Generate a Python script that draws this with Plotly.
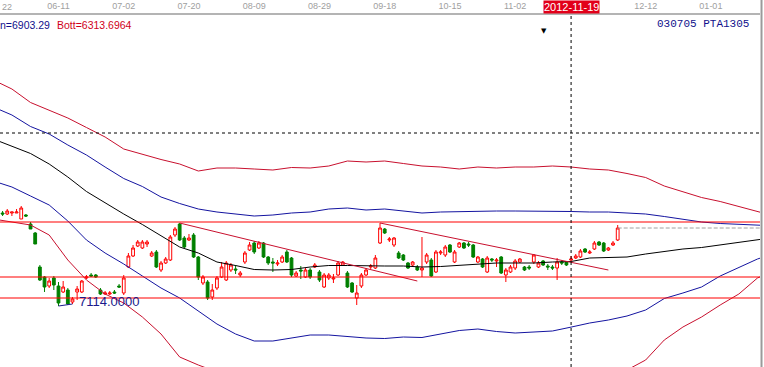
import plotly.graph_objects as go

# ---------------- data ----------------
bar_index = list(range(2, 135))

OPEN = [8044, 8034, 8044, 8044, 7984, 8024, 7934, 7844, 7504, 7404, 7314, 7394, 7314, 7254, 7274, 7154, 7254, 7254,
        7394, 7424, 7424, 7274, 7234, 7234, 7254, 7314, 7244, 7504, 7614, 7714, 7694, 7734, 7614, 7654, 7474, 7544,
        7574, 7824, 7934, 7794, 7774, 7824, 7604, 7344, 7354, 7204, 7294, 7404, 7374, 7474, 7484, 7424, 7554, 7674,
        7744, 7694, 7744, 7604, 7554, 7534, 7554, 7654, 7594, 7414, 7474, 7404, 7474, 7504, 7454, 7304, 7394, 7384,
        7424, 7524, 7444, 7344, 7194, 7314, 7424, 7504, 7494, 7744, 7884, 7774, 7724, 7644, 7624, 7544, 7524, 7504,
        7474, 7554, 7574, 7454, 7644, 7624, 7724, 7554, 7704, 7744, 7734, 7724, 7554, 7584, 7454, 7584, 7564, 7604,
        7424, 7454, 7494, 7554, 7504, 7504, 7554, 7504, 7564, 7514, 7504, 7494, 7554, 7554, 7574, 7594, 7604, 7684,
        7644, 7684, 7754, 7744, 7674, 7724, 7774]
HIGH = [8064, 8084, 8054, 8084, 8114, 8034, 7954, 7854, 7524, 7414, 7394, 7414, 7354, 7364, 7294, 7204, 7314, 7374,
        7424, 7444, 7434, 7294, 7264, 7264, 7274, 7334, 7424, 7644, 7724, 7774, 7774, 7774, 7664, 7674, 7564, 7604,
        7824, 7904, 7944, 7814, 7834, 7844, 7614, 7424, 7374, 7334, 7414, 7554, 7564, 7544, 7524, 7464, 7664, 7754,
        7764, 7764, 7754, 7614, 7594, 7574, 7624, 7674, 7604, 7464, 7514, 7494, 7494, 7544, 7474, 7444, 7444, 7434,
        7564, 7564, 7464, 7354, 7324, 7444, 7494, 7534, 7624, 7944, 7894, 7804, 7804, 7664, 7634, 7554, 7564, 7524,
        7804, 7644, 7594, 7674, 7674, 7724, 7734, 7674, 7754, 7754, 7754, 7734, 7614, 7594, 7614, 7594, 7594, 7614,
        7494, 7524, 7584, 7594, 7514, 7524, 7634, 7564, 7574, 7534, 7524, 7594, 7574, 7564, 7614, 7634, 7684, 7694,
        7674, 7764, 7764, 7754, 7704, 7764, 7924]
LOW = [8014, 8024, 8014, 8044, 7984, 8004, 7884, 7734, 7364, 7254, 7294, 7274, 7114, 7244, 7124, 7134, 7174, 7244,
       7384, 7404, 7394, 7224, 7224, 7224, 7234, 7294, 7224, 7494, 7604, 7704, 7684, 7704, 7604, 7494, 7454, 7534,
       7564, 7804, 7764, 7694, 7764, 7594, 7374, 7324, 7174, 7174, 7274, 7394, 7364, 7454, 7434, 7404, 7534, 7664,
       7634, 7684, 7594, 7524, 7454, 7514, 7544, 7544, 7404, 7404, 7384, 7394, 7384, 7494, 7354, 7294, 7374, 7344,
       7414, 7514, 7294, 7244, 7124, 7294, 7414, 7484, 7484, 7734, 7834, 7754, 7704, 7584, 7564, 7484, 7514, 7464,
       7404, 7534, 7404, 7444, 7624, 7604, 7644, 7544, 7694, 7684, 7704, 7594, 7544, 7494, 7444, 7554, 7504, 7434,
       7354, 7444, 7474, 7544, 7464, 7474, 7534, 7494, 7514, 7474, 7474, 7374, 7524, 7514, 7554, 7584, 7594, 7644,
       7634, 7674, 7714, 7654, 7664, 7714, 7764]
CLOSE = [8034, 8064, 8054, 8054, 8094, 8014, 7884, 7734, 7374, 7304, 7364, 7324, 7144, 7304, 7134, 7184, 7284, 7364,
         7404, 7414, 7404, 7234, 7244, 7244, 7244, 7304, 7394, 7614, 7694, 7754, 7754, 7754, 7644, 7504, 7544, 7584,
         7804, 7884, 7774, 7704, 7794, 7604, 7404, 7404, 7194, 7274, 7394, 7504, 7544, 7524, 7474, 7444, 7644, 7724,
         7654, 7744, 7604, 7544, 7544, 7544, 7604, 7554, 7424, 7444, 7464, 7474, 7404, 7524, 7374, 7424, 7424, 7394,
         7544, 7554, 7304, 7254, 7244, 7424, 7474, 7514, 7594, 7894, 7844, 7784, 7794, 7594, 7574, 7494, 7554, 7474,
         7494, 7624, 7414, 7654, 7654, 7704, 7654, 7654, 7744, 7694, 7724, 7604, 7604, 7504, 7594, 7574, 7574, 7444,
         7474, 7504, 7564, 7584, 7474, 7494, 7624, 7544, 7524, 7504, 7494, 7554, 7544, 7524, 7584, 7614, 7664, 7654,
         7654, 7744, 7724, 7664, 7694, 7744, 7894]

band_x = [0, 4, 8, 12, 16, 20, 24, 28, 32, 36, 40, 44, 48, 52, 56, 60, 64, 68, 72, 76, 80, 84, 88, 92, 96, 100,
          104, 108, 112, 116, 120, 124, 128, 132, 136, 140, 144, 148, 152, 156, 160, 164, 166]
upper_red = [9374, 9284, 9149, 9074, 8994, 8899, 8804, 8684, 8629, 8579, 8534, 8464, 8494, 8494, 8484, 8474, 8499,
             8494, 8514, 8564, 8554, 8564, 8539, 8514, 8504, 8484, 8504, 8494, 8504, 8504, 8514, 8504, 8484, 8474,
             8439, 8399, 8314, 8254, 8199, 8159, 8109, 8064, 8034]
upper_blue = [9104, 9024, 8909, 8834, 8724, 8624, 8504, 8389, 8309, 8204, 8139, 8084, 8054, 8034, 8014, 8024, 8044,
              8054, 8084, 8094, 8074, 8084, 8064, 8044, 8054, 8059, 8064, 8064, 8064, 8064, 8064, 8059, 8054, 8054,
              8044, 8034, 8009, 7984, 7954, 7939, 7929, 7924, 7919]
middle = [8784, 8709, 8639, 8534, 8404, 8259, 8144, 8034, 7929, 7814, 7704, 7644, 7554, 7519, 7479, 7474, 7479,
          7504, 7519, 7519, 7514, 7514, 7514, 7504, 7509, 7519, 7534, 7544, 7544, 7544, 7554, 7559, 7594, 7599,
          7604, 7634, 7659, 7684, 7699, 7724, 7754, 7779, 7789]
lower_blue = [8364, 8304, 8214, 8124, 7964, 7774, 7644, 7534, 7414, 7294, 7194, 7064, 6934, 6834, 6764, 6764, 6794,
              6824, 6824, 6809, 6794, 6789, 6804, 6799, 6834, 6869, 6884, 6859, 6844, 6854, 6864, 6903, 6944, 6974,
              7014, 7074, 7189, 7244, 7304, 7414, 7499, 7584, 7614]
lower_red = [7984, 7954, 7924, 7824, 7574, 7374, 7234, 7144, 7004, 6834, 6604, 6524, 6454, 6374, 6314, 6264, 6244,
             6234, 6234, 6244, 6254, 6254, 6254, 6244, 6254, 6274, 6284, 6284, 6284, 6294, 6304, 6314, 6344, 6394,
             6474, 6574, 6774, 6904, 7004, 7124, 7234, 7394, 7434]

level_lines = [7954, 7404, 7194]
trend1 = {"x": [40, 91], "y": [7944, 7364]}
trend2 = {"x": [83, 132], "y": [7944, 7474]}

tick_vals = [14, 28, 42, 56, 70, 84, 98, 112, 140, 154]
tick_text = ["06-11", "07-02", "07-20", "08-09", "08-29", "09-18", "10-15", "11-02", "12-12", "01-01"]

cross_index = 124
cross_label = "2012-11-19"
cross_price = 8844
low_value = 7114
low_index = 14
last_close = CLOSE[-1]
last_index = bar_index[-1]

# ---------------- figure ----------------
BAND_RED = "#c8102e"
BAND_BLUE = "#1414a0"
fig = go.Figure()

for vals, col in [(upper_red, BAND_RED), (upper_blue, BAND_BLUE), (middle, "#000000"),
                  (lower_blue, BAND_BLUE), (lower_red, BAND_RED)]:
    fig.add_trace(go.Scatter(x=band_x, y=vals, mode="lines",
                             line=dict(color=col, width=1), hoverinfo="skip", showlegend=False))

for tr in (trend1, trend2):
    fig.add_trace(go.Scatter(x=tr["x"], y=tr["y"], mode="lines",
                             line=dict(color=BAND_RED, width=1), hoverinfo="skip", showlegend=False))

fig.add_trace(go.Candlestick(
    x=bar_index, open=OPEN, high=HIGH, low=LOW, close=CLOSE,
    increasing=dict(line=dict(color="#ff0000", width=1), fillcolor="#ffffff"),
    decreasing=dict(line=dict(color="#008000", width=1), fillcolor="#008000"),
    whiskerwidth=0, showlegend=False, hoverinfo="skip"))

shapes = []
for lv in level_lines:
    shapes.append(dict(type="line", xref="paper", yref="y", x0=0, x1=1, y0=lv, y1=lv,
                       line=dict(color="#ff0000", width=1.2)))
shapes.append(dict(type="line", xref="x", yref="y", x0=last_index, x1=166, y0=last_close, y1=last_close,
                   line=dict(color="#a0a0a0", width=1, dash="4px,2px")))
shapes.append(dict(type="line", xref="x", yref="paper", x0=cross_index, x1=cross_index, y0=0, y1=1,
                   line=dict(color="#000000", width=1, dash="3px,3px")))
shapes.append(dict(type="line", xref="paper", yref="y", x0=0, x1=1, y0=cross_price, y1=cross_price,
                   line=dict(color="#000000", width=1, dash="3px,3px")))
shapes.append(dict(type="line", xref="x", yref="y", x0=low_index, x1=17, y0=low_value, y1=7134,
                   line=dict(color="#1a1a8c", width=1)))
shapes.append(dict(type="line", xref="paper", yref="paper", x0=1.002, x1=1.002, y0=0, y1=1.05,
                   line=dict(color="#9a9a9a", width=2)))

annotations = [
    dict(text=f"{low_value:.4f}", x=18.0, y=7164, xref="x", yref="y", showarrow=False,
         xanchor="left", yanchor="middle", font=dict(family="Liberation Sans", size=13, color="#1a1a8c")),
    dict(text="n=6903.29", x=-0.002, y=0.972, xref="paper", yref="paper", showarrow=False,
         xanchor="left", yanchor="middle", font=dict(family="Liberation Sans", size=10.5, color="#10108c")),
    dict(text="Bott=6313.6964", x=55 / 760, y=0.972, xref="paper", yref="paper", showarrow=False,
         xanchor="left", yanchor="middle", font=dict(family="Liberation Sans", size=10.5, color="#d0001a")),
    dict(text="030705 PTA1305", x=751 / 760, y=0.975, xref="paper", yref="paper", showarrow=False,
         xanchor="right", yanchor="middle", font=dict(family="Liberation Mono", size=11, color="#10108c")),
    dict(text="▼", x=544 / 760, y=0.955, xref="paper", yref="paper", showarrow=False,
         xanchor="center", yanchor="middle", font=dict(family="DejaVu Sans", size=7, color="#000000")),
    dict(text=cross_label, x=cross_index, y=1.0, xref="x", yref="paper", showarrow=False,
         xanchor="center", yanchor="bottom", yshift=1, bgcolor="#e2001a", borderpad=0,
         font=dict(family="Liberation Sans", size=11, color="#ffffff")),
    dict(text="22", x=0, y=1.0, xref="paper", yref="paper", showarrow=False,
         xanchor="left", yanchor="bottom", yshift=1,
         font=dict(family="Liberation Sans", size=9, color="#a0a0a0")),
]

fig.update_layout(
    width=764, height=367, autosize=False,
    margin=dict(l=0, r=4, t=15, b=0, pad=0),
    paper_bgcolor="#ffffff", plot_bgcolor="#ffffff",
    showlegend=False, boxgap=0.15, hovermode=False,
    shapes=shapes, annotations=annotations,
    xaxis=dict(range=[1.446, 164.54], side="top", tickvals=tick_vals, ticktext=tick_text,
               tickfont=dict(family="Liberation Sans", size=9, color="#a0a0a0"),
               showline=True, linecolor="#b4b4b4", linewidth=2, ticks="",
               showgrid=False, zeroline=False, rangeslider=dict(visible=False), fixedrange=True),
    yaxis=dict(range=[6504, 10024], showticklabels=False, showgrid=False, zeroline=False,
               ticks="", showline=False, fixedrange=True),
)

fig.write_html("out.html", config={"displayModeBar": False, "staticPlot": True},
               post_script="document.body.style.margin='0';document.body.style.overflow='hidden';")
